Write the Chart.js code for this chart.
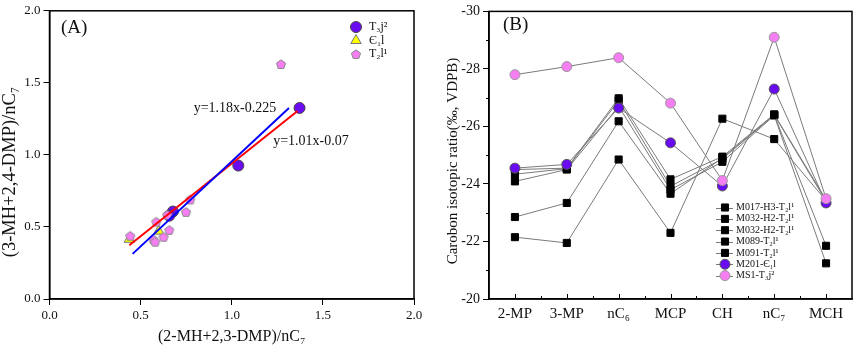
<!DOCTYPE html>
<html><head><meta charset="utf-8">
<script src="https://cdn.jsdelivr.net/npm/chart.js@4.4.1/dist/chart.umd.min.js"></script>
<style>
html,body{margin:0;padding:0;background:#fff;width:858px;height:346px;overflow:hidden;}
canvas{position:absolute;top:0;}
#ca{left:0;width:430px;height:346px;}
#cb{left:430px;width:428px;height:346px;}
</style></head><body>
<canvas id="ca" width="430" height="346"></canvas>
<canvas id="cb" width="428" height="346"></canvas>
<script>
// ---------- Data: panel A ----------
const t3j2X = [1.372, 1.036, 0.677, 0.657];
const t3j2Y = [1.326, 0.926, 0.607, 0.578];
const c1lX = [0.599, 0.438];
const c1lY = [0.471, 0.414];
const t2l1X = [1.270, 0.772, 0.749, 0.646, 0.586, 0.657, 0.626, 0.570, 0.580, 0.443];
const t2l1Y = [1.631, 0.691, 0.605, 0.585, 0.537, 0.480, 0.432, 0.414, 0.398, 0.439];
const blueFit = [1.18, -0.225];   // slope, intercept
const blueRange = [0.456, 1.314];
const redFit = [1.01, -0.07];
const redRange = [0.438, 1.361];
const xTicksA = [0, 0.5, 1.0, 1.5, 2.0];

// ---------- Data: panel B ----------
const categoriesB = ['2-MP', '3-MP', 'nC₆', 'MCP', 'CH', 'nC₇', 'MCH'];
const m017 = [-24.50, -24.55, -26.98, -24.16, -24.95, -26.42, -23.45];
const m032a = [-24.34, -24.53, -26.90, -23.92, -24.87, -26.40, -21.85];
const m032b = [-24.09, -24.50, -26.70, -23.80, -24.77, -26.38, -21.24];
const m089 = [-22.85, -23.34, -26.18, -23.66, -24.90, -26.40, -23.40];
const m091 = [-22.15, -21.95, -24.85, -22.30, -26.27, -25.56, -23.42];
const m201 = [-24.55, -24.68, -26.64, -25.43, -23.93, -27.30, -23.34];
const ms1 = [-27.80, -28.08, -28.39, -26.81, -24.12, -29.10, -23.49];
const seriesNamesB = ['M017-H3-T₂l¹', 'M032-H2-T₂l¹', 'M032-H2-T₂l¹', 'M089-T₂l¹', 'M091-T₂l¹', 'M201-Є₁l', 'MS1-T₃j²'];

const SERIF = "'Liberation Serif','Times New Roman',serif";
Chart.defaults.font.family = SERIF;
Chart.defaults.color = '#111';
Chart.defaults.animation = false;

const PURPLE = '#6a0cf2', PINK = '#f57ef2', YELLOW = '#ffff00';

function makePentagon(r, fill, stroke) {
  const s = Math.ceil(2 * r + 4);
  const c = document.createElement('canvas'); c.width = s; c.height = s;
  const g = c.getContext('2d'); g.beginPath();
  for (let i = 0; i < 5; i++) {
    const a = -Math.PI / 2 + i * 2 * Math.PI / 5;
    const px = s / 2 + r * Math.cos(a), py = s / 2 + 0.6 + r * Math.sin(a);
    if (i) g.lineTo(px, py); else g.moveTo(px, py);
  }
  g.closePath(); g.fillStyle = fill; g.fill(); g.strokeStyle = stroke; g.lineWidth = 1; g.stroke();
  return c;
}
const pentagon = makePentagon(4.8, PINK, '#8a8a8a');

function pts(xs, ys) { return xs.map((x, i) => ({ x, y: ys[i] })); }
function fitPoints(fit, range) { return range.map(x => ({ x, y: fit[0] * x + fit[1] })); }

function mark(ctx, style, r, bg, bd, x, y) {
  ctx.save(); ctx.fillStyle = bg; ctx.strokeStyle = bd; ctx.lineWidth = 1;
  Chart.helpers.drawPoint(ctx, { pointStyle: style, radius: r, rotation: 0, borderWidth: 1 }, x, y);
  ctx.restore();
}
function vText(ctx, text, font, x, y) {
  ctx.save(); ctx.translate(x, y); ctx.rotate(-Math.PI / 2);
  ctx.font = font; ctx.fillStyle = '#111'; ctx.textAlign = 'center'; ctx.textBaseline = 'middle';
  ctx.fillText(text, 0, 0); ctx.restore();
}

const frame = {
  id: 'frame',
  afterDraw(chart) {
    const { ctx, chartArea: a } = chart;
    ctx.save(); ctx.strokeStyle = '#000'; ctx.lineWidth = 1.5;
    ctx.strokeRect(a.left, a.top, a.right - a.left, a.bottom - a.top);
    ctx.restore();
  }
};

const extrasA = {
  id: 'extrasA',
  afterDraw(chart) {
    const ctx = chart.ctx;
    vText(ctx, '(3-MH+2,4-DMP)/nC₇', '18.5px ' + SERIF, 10, 172);
    ctx.save();
    ctx.fillStyle = '#111'; ctx.textBaseline = 'middle'; ctx.textAlign = 'left';
    ctx.font = '19px ' + SERIF; ctx.fillText('(A)', 61, 28);
    ctx.font = '14px ' + SERIF; ctx.textAlign = 'center';
    ctx.fillText('y=1.18x-0.225', 235, 108);
    ctx.fillText('y=1.01x-0.07', 311, 141);
    const items = [
      ['T₃j²', 'circle', 5.5, PURPLE, '#444'],
      ['Є₁l', 'triangle', 6, YELLOW, '#777'],
      ['T₂l¹', pentagon, 5, PINK, '#888']
    ];
    ctx.font = '12px ' + SERIF; ctx.textAlign = 'left';
    items.forEach((it, i) => {
      const y = 27 + 13.5 * i;
      mark(ctx, it[1], it[2], it[3], it[4], 356, y);
      ctx.fillStyle = '#111'; ctx.fillText(it[0], 369, y);
    });
    ctx.restore();
  }
};

new Chart(document.getElementById('ca'), {
  type: 'scatter',
  data: {
    datasets: [
      { type: 'line', data: fitPoints(blueFit, blueRange), borderColor: '#0000ff', borderWidth: 2, pointRadius: 0, fill: false },
      { type: 'line', data: fitPoints(redFit, redRange), borderColor: '#ff0000', borderWidth: 2, pointRadius: 0, fill: false },
      { label: 'T₂l¹', data: pts(t2l1X, t2l1Y), pointStyle: pentagon, pointRadius: 5 },
      { label: 'Є₁l', data: pts(c1lX, c1lY), pointStyle: 'triangle', pointRadius: 6, backgroundColor: YELLOW, borderColor: '#777', borderWidth: 1 },
      { label: 'T₃j²', data: pts(t3j2X, t3j2Y), pointStyle: 'circle', pointRadius: 5.5, backgroundColor: PURPLE, borderColor: '#444', borderWidth: 1 }
    ]
  },
  options: {
    responsive: false, devicePixelRatio: 1, animation: false,
    layout: { padding: { top: 6, right: 16, left: 0, bottom: 0 } },
    plugins: { legend: { display: false }, tooltip: { enabled: false } },
    scales: {
      x: {
        type: 'linear', min: 0, max: 2,
        afterBuildTicks: s => { s.ticks = xTicksA.map(v => ({ value: v })); },
        ticks: { callback: v => v.toFixed(1), font: { size: 13 }, color: '#111', padding: 3, maxRotation: 0 },
        grid: { drawOnChartArea: false, tickLength: 6, color: '#000', lineWidth: 1 },
        border: { color: '#000', width: 1.5 },
        title: { display: true, text: '(2-MH+2,3-DMP)/nC₇', font: { size: 16 }, color: '#111', padding: 0 },
        afterFit: s => { s.height = 47; }
      },
      y: {
        type: 'linear', min: 0, max: 2,
        afterBuildTicks: s => { s.ticks = xTicksA.map(v => ({ value: v })); },
        ticks: { callback: v => v.toFixed(1), font: { size: 13 }, color: '#111', padding: 3 },
        grid: { drawOnChartArea: false, tickLength: 6, color: '#000', lineWidth: 1 },
        border: { color: '#000', width: 1.5 },
        title: { display: false },
        afterFit: s => { s.width = 49.5; }
      }
    }
  },
  plugins: [frame, extrasA]
});

// ---------- Panel B ----------
const squareSeries = [m017, m032a, m032b, m089, m091];
const LINE_GREY = '#7a7a7a';
const dsB = [
  { label: seriesNamesB[6], data: ms1, pointStyle: 'circle', pointRadius: 5, pointBackgroundColor: PINK, pointBorderColor: '#999' },
  { label: seriesNamesB[5], data: m201, pointStyle: 'circle', pointRadius: 5, pointBackgroundColor: PURPLE, pointBorderColor: '#555' }
].concat(squareSeries.map((s, i) => ({
  label: seriesNamesB[i], data: s, pointStyle: 'rect', pointRadius: 5, pointBackgroundColor: '#000', pointBorderColor: '#000'
})));
dsB.forEach(d => { d.borderColor = LINE_GREY; d.borderWidth = 1; d.pointBorderWidth = 1; d.fill = false; d.tension = 0; });

const extrasB = {
  id: 'extrasB',
  afterDraw(chart) {
    const ctx = chart.ctx, xs = chart.scales.x, ys = chart.scales.y, a = chart.chartArea;
    vText(ctx, 'Carobon isotopic ratio(‰, VDPB)', '15px ' + SERIF, 23, 161);
    ctx.save();
    ctx.strokeStyle = '#000'; ctx.lineWidth = 1;
    for (let i = 0; i < categoriesB.length; i++) {
      const px = Math.round(xs.getPixelForValue(i)) + 0.5;
      ctx.beginPath(); ctx.moveTo(px, a.bottom); ctx.lineTo(px, a.bottom - 5); ctx.stroke();
      if (i < categoriesB.length - 1) {
        const mx = Math.round((xs.getPixelForValue(i) + xs.getPixelForValue(i + 1)) / 2) + 0.5;
        ctx.beginPath(); ctx.moveTo(mx, a.bottom); ctx.lineTo(mx, a.bottom - 3); ctx.stroke();
      }
    }
    for (let v = -29; v <= -21; v += 2) {
      const py = Math.round(ys.getPixelForValue(v)) + 0.5;
      ctx.beginPath(); ctx.moveTo(a.left, py); ctx.lineTo(a.left - 3, py); ctx.stroke();
    }
    ctx.fillStyle = '#111'; ctx.textBaseline = 'middle'; ctx.textAlign = 'left';
    ctx.font = '19px ' + SERIF; ctx.fillText('(B)', 73, 25);
    const legendItems = [
      ['rect', 5, '#000', '#000'], ['rect', 5, '#000', '#000'], ['rect', 5, '#000', '#000'],
      ['rect', 5, '#000', '#000'], ['rect', 5, '#000', '#000'],
      ['circle', 5, PURPLE, '#555'], ['circle', 5, PINK, '#999']
    ];
    ctx.font = '10px ' + SERIF;
    legendItems.forEach((it, i) => {
      const y = 207.5 + 11.35 * i;
      ctx.strokeStyle = LINE_GREY; ctx.lineWidth = 1;
      ctx.beginPath(); ctx.moveTo(286, Math.round(y) + 0.5); ctx.lineTo(303, Math.round(y) + 0.5); ctx.stroke();
      mark(ctx, it[0], it[1], it[2], it[3], 295, y);
      ctx.fillStyle = '#111'; ctx.fillText(seriesNamesB[i], 306, y);
    });
    ctx.restore();
  }
};

new Chart(document.getElementById('cb'), {
  type: 'line',
  data: { labels: categoriesB, datasets: dsB },
  options: {
    responsive: false, devicePixelRatio: 1, animation: false,
    layout: { padding: { top: 6, right: 2, left: 0, bottom: 0 } },
    plugins: { legend: { display: false }, tooltip: { enabled: false } },
    scales: {
      x: {
        type: 'category', offset: true,
        ticks: { font: { size: 15 }, color: '#111', padding: 6, maxRotation: 0 },
        grid: { display: false, drawTicks: false },
        border: { display: true, color: '#000', width: 1.5 },
        afterFit: s => { s.height = 47; }
      },
      y: {
        type: 'linear', min: -30, max: -20, reverse: true,
        ticks: { stepSize: 2, font: { size: 14 }, color: '#111', padding: 3 },
        grid: { drawOnChartArea: false, tickLength: 6, color: '#000', lineWidth: 1 },
        border: { color: '#000', width: 1.5 },
        title: { display: false },
        afterFit: s => { s.width = 59; }
      }
    }
  },
  plugins: [frame, extrasB]
});
</script>
</body></html>
